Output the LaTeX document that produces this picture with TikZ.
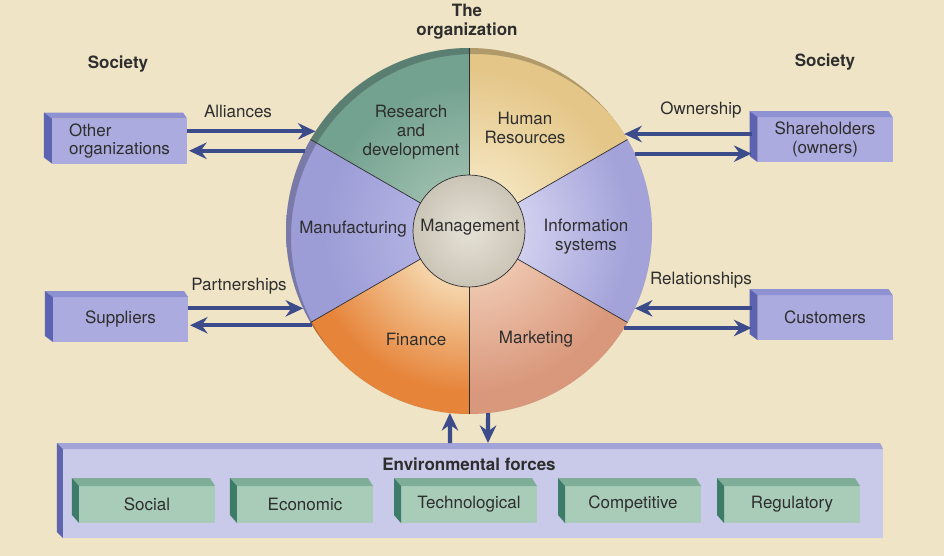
\documentclass[tikz,border=0pt]{standalone}
\usepackage{fontspec}
\setmainfont{TeX Gyre Heros}
\usetikzlibrary{arrows.meta,calc}
\definecolor{bg}{HTML}{EFE4C5}
\definecolor{txt}{HTML}{2E2E2E}
\definecolor{arrc}{HTML}{3C4B8A}
\definecolor{lavfront}{HTML}{ABABDF}
\definecolor{lavtop}{HTML}{8E91D2}
\definecolor{lavside}{HTML}{5C63B2}
\definecolor{envfront}{HTML}{C9C9EA}
\definecolor{envtop}{HTML}{A2A3D6}
\definecolor{envside}{HTML}{5E64AE}
\definecolor{grnfront}{HTML}{A9CCB8}
\definecolor{grntop}{HTML}{7FAE98}
\definecolor{grnside}{HTML}{3D7C69}
\definecolor{divc}{HTML}{2E2E2E}
\definecolor{rdin}{HTML}{98BBAA}
\definecolor{rdout}{HTML}{74A291}
\definecolor{hrin}{HTML}{F3E2BA}
\definecolor{hrout}{HTML}{E4C688}
\definecolor{isin}{HTML}{D0CEEE}
\definecolor{isout}{HTML}{A3A3DA}
\definecolor{mkin}{HTML}{EDC4AC}
\definecolor{mkout}{HTML}{D9987C}
\definecolor{fnin}{HTML}{F5D3A8}
\definecolor{fnout}{HTML}{E6843A}
\definecolor{mfin}{HTML}{B0B0E2}
\definecolor{mfout}{HTML}{9C9DD6}
\definecolor{mgin}{HTML}{E6E1D6}
\definecolor{mgout}{HTML}{CBC5B7}
\pgfdeclareradialshading{shRD}{\pgfpoint{0bp}{0bp}}{color(0bp)=(rdin); color(8bp)=(rdin); color(20bp)=(rdout); color(50bp)=(rdout)}
\pgfdeclareradialshading{shHR}{\pgfpoint{0bp}{0bp}}{color(0bp)=(hrin); color(8bp)=(hrin); color(22bp)=(hrout); color(50bp)=(hrout)}
\pgfdeclareradialshading{shIS}{\pgfpoint{0bp}{0bp}}{color(0bp)=(isin); color(8bp)=(isin); color(22bp)=(isout); color(50bp)=(isout)}
\pgfdeclareradialshading{shMK}{\pgfpoint{0bp}{0bp}}{color(0bp)=(mkin); color(8bp)=(mkin); color(22bp)=(mkout); color(50bp)=(mkout)}
\pgfdeclareradialshading{shFN}{\pgfpoint{0bp}{0bp}}{color(0bp)=(fnin); color(8bp)=(fnin); color(22bp)=(fnout); color(50bp)=(fnout)}
\pgfdeclareradialshading{shMF}{\pgfpoint{0bp}{0bp}}{color(0bp)=(mfin); color(8bp)=(mfin); color(20bp)=(mfout); color(50bp)=(mfout)}
\pgfdeclareradialshading{shMG}{\pgfpoint{0bp}{0bp}}{color(0bp)=(mgin); color(25bp)=(mgout); color(50bp)=(mgout)}
\begin{document}
\begin{tikzpicture}[x=0.03cm,y=-0.03cm,
  font=\fontsize{14.5}{16.2}\selectfont, text=txt,
  lavbox/.style={fill=lavfront, minimum width=4.05cm, minimum height=1.35cm, inner sep=0pt, outer sep=0pt, align=center},
  envbox/.style={fill=envfront, minimum width=24.6cm, minimum height=2.67cm, inner sep=0pt, outer sep=0pt},
  grnbox/.style={fill=grnfront, minimum width=4.08cm, minimum height=1.11cm, inner sep=0pt, outer sep=0pt},
  arr/.style={draw=arrc, line width=3.6pt, -{Stealth[length=15pt,width=14pt,inset=5pt]}},
  lbl/.style={inner sep=0pt},
  ttl/.style={inner sep=0pt, font=\fontsize{14.5}{16.2}\selectfont\bfseries},
  seg/.style={inner sep=0pt, align=center},
  divline/.style={draw=divc, line width=0.6pt}]
\fill[bg] (0,0) rectangle (944,556);
\useasboundingbox (0,0) rectangle (944,556);

% ---------- wheel ----------
\node[circle, minimum size=10.98cm, inner sep=0pt, outer sep=0pt] (org) at (469,231) {};
\begin{scope}[shift={(469,231)}, yscale=-1]
  \foreach \a/\b/\s in {90/150/shRD, 30/90/shHR, -30/30/shIS, -90/-30/shMK, 210/270/shFN, 150/210/shMF}{
    \begin{scope}
      \clip (0,0) -- (\a:183) arc[start angle=\a, end angle=\b, radius=183] -- cycle;
      \shade[shading=\s] (0,0) circle (183);
    \end{scope}
  }
  \begin{scope}
    \clip (0,0) circle (183);
    \fill[black, opacity=0.22, even odd rule] (0,0) circle (183) (5,-6) circle (183);
  \end{scope}
  \foreach \a in {30,90,150,210,270,330}
    \draw[divline] (\a:56) -- (\a:183);
  \shadedraw[shading=shMG, draw=divc, line width=0.6pt] (0,0) circle (56);
\end{scope}

\node[seg] (rd) at (411,132) {Research\\and\\development};
\node[seg] (hr) at (525,128) {Human\\Resources};
\node[seg] (mf) at (353,229) {Manufacturing};
\node[seg] (mg) at (470,227) {Management};
\node[seg] (is) at (586,237) {Information\\systems};
\node[seg] (fn) at (416,339) {Finance};
\node[seg] (mk) at (536,339) {Marketing};

% ---------- titles ----------
\node[ttl, align=center] (title) at (467,22) {The\\organization};
\node[ttl] (socl) at (118,64) {Society};
\node[ttl] (socr) at (825,62) {Society};

% ---------- side boxes ----------
\node[lavbox, align=left] (oo) at (119.5,141) {Other\\organizations};
\node[lavbox] (sh) at (825,139.5) {Shareholders\\(owners)};
\node[lavbox] (su) at (120.5,319.5) {Suppliers};
\node[lavbox] (cu) at (825,317.5) {Customers};
\foreach \n in {oo,sh,su,cu}{
  \fill[lavtop] (\n.north west) -- ++(-8,-6) -- ($(\n.north east)+(-4,-6)$) -- (\n.north east) -- cycle;
  \fill[lavside] (\n.north west) -- ++(-8,-6) -- ($(\n.south west)+(-8,-6)$) -- (\n.south west) -- cycle;
}

% ---------- labels ----------
\node[lbl] (all) at (238,111) {Alliances};
\node[lbl] (own) at (701,110) {Ownership};
\node[lbl] (par) at (239,286) {Partnerships};
\node[lbl] (rel) at (701,280) {Relationships};

% ---------- arrows ----------
\draw[arr] (oo.east |- org.147.6) -- (org.147.6);
\draw[arr] (org.154.4) -- ($(oo.east |- org.154.4)+(2,0)$);
\draw[arr] ($(sh.west |- org.32.4)+(-6,0)$) -- (org.32.4);
\draw[arr] (org.25.9) -- ($(sh.west |- org.25.9)+(-6,0)$);
\draw[arr] (su.east |- org.205.2) -- (org.205.2);
\draw[arr] (org.211.6) -- ($(su.east |- org.211.6)+(2,0)$);
\draw[arr] ($(cu.west |- org.335.1)+(-6,0)$) -- (org.335.1);
\draw[arr] (org.328.7) -- ($(cu.west |- org.328.7)+(-6,0)$);

% ---------- environmental forces ----------
\node[envbox] (env) at (473,493.5) {};
\fill[envtop] (env.north west) -- ++(-6,-6) -- ($(env.north east)+(-3,-6)$) -- (env.north east) -- cycle;
\fill[envside] (env.north west) -- ++(-6,-6) -- ($(env.south west)+(-6,-6)$) -- (env.south west) -- cycle;
\node[ttl] (envl) at (469,464) {Environmental forces};

\node[grnbox] (soc) at (147,504.5) {Social};
\node[grnbox] (eco) at (305,504.5) {Economic};
\node[grnbox] (tec) at (469,504.5) {Technological};
\node[grnbox] (com) at (633,504.5) {Competitive};
\node[grnbox] (reg) at (792,504.5) {Regulatory};
\foreach \n in {soc,eco,tec,com,reg}{
  \fill[grntop] (\n.north west) -- ++(-7,-8) -- ($(\n.north east)+(-5,-8)$) -- (\n.north east) -- cycle;
  \fill[grnside] (\n.north west) -- ++(-7,-8) -- ($(\n.south west)+(-7,-8)$) -- (\n.south west) -- cycle;
}

\draw[arr] ($(env.north)+(-23,-6)$) -- (org.264);
\draw[arr] (org.276) -- ($(env.north)+(15,-6)$);
\end{tikzpicture}
\end{document}
